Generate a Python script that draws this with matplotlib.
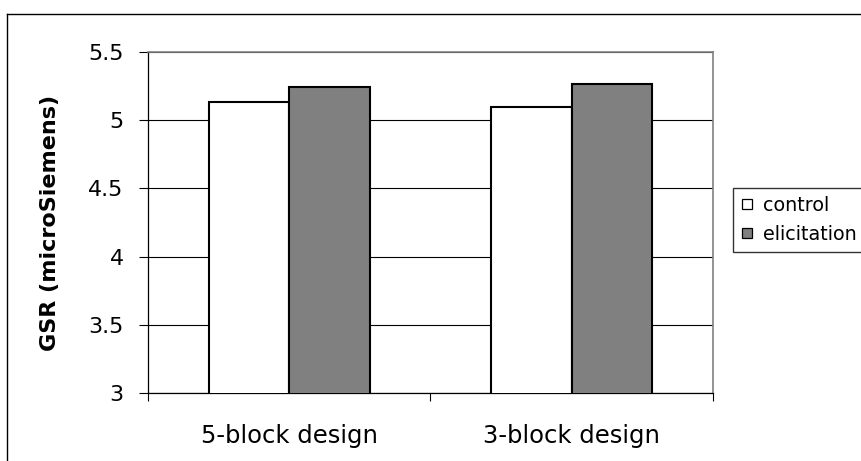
import matplotlib
matplotlib.use("Agg")
import matplotlib.pyplot as plt
from matplotlib.lines import Line2D
import numpy as np

# ===================== data =====================
CATEGORIES = ["5-block design", "3-block design"]
CONTROL = [5.135, 5.096]
ELICITATION = [5.247, 5.265]
SERIES_NAMES = ["control", "elicitation"]
Y_TICKS = [3, 3.5, 4, 4.5, 5, 5.5]
Y_LABEL = "GSR (microSiemens)"

OUTPUT_PATH = "out.png"
FIG_W, FIG_H, DPI = 862, 461, 100

plt.rcParams["font.family"] = ["DejaVu Sans"]


def px_to_fig(x, y):
    """pixel position (from top-left) -> figure fraction"""
    return x / FIG_W, 1 - y / FIG_H


def plot_chart(save_path):
    fig = plt.figure(figsize=(FIG_W / DPI, FIG_H / DPI), dpi=DPI)

    # plot area: x 148..713, y 52..393 (pixels)
    left, top = px_to_fig(148, 52)
    right, bottom = px_to_fig(713, 393)
    ax = fig.add_axes([left, bottom, right - left, top - bottom])

    x = np.arange(len(CATEGORIES))
    width = 0.285
    ax.bar(x - width / 2, CONTROL, width, color="white", edgecolor="black",
           linewidth=1.5, zorder=3)
    ax.bar(x + width / 2, ELICITATION, width, color="#808080", edgecolor="black",
           linewidth=1.5, zorder=3)

    ax.set_xlim(-0.5, len(CATEGORIES) - 0.5)
    ax.set_ylim(Y_TICKS[0], Y_TICKS[-1])
    ax.set_yticks(Y_TICKS)
    ax.set_yticklabels([f"{t:g}" for t in Y_TICKS], fontsize=16)
    ax.tick_params(axis="y", direction="out", length=6.5, width=0.8, pad=11)

    ax.set_xticks(x)
    ax.set_xticklabels(CATEGORIES, fontsize=17.5)
    ax.set_xticks(np.arange(len(CATEGORIES) + 1) - 0.5, minor=True)
    ax.tick_params(axis="x", which="major", length=0, pad=22)
    ax.tick_params(axis="x", which="minor", direction="out", length=6, width=0.8)

    ax.yaxis.grid(True, color="black", linewidth=0.8)
    ax.set_axisbelow(True)

    for side in ["left", "bottom"]:
        ax.spines[side].set_color("black")
        ax.spines[side].set_linewidth(0.9)
    for side in ["top", "right"]:
        ax.spines[side].set_color("#808080")
        ax.spines[side].set_linewidth(1.2)

    ax.set_ylabel(Y_LABEL, fontsize=16, fontweight="bold")
    ax.yaxis.set_label_coords(-0.173, 0.5)
    ax.yaxis.label.set_verticalalignment("center")

    # legend
    handles = [
        Line2D([], [], marker="s", linestyle="none", markersize=7.5,
               markerfacecolor="white", markeredgecolor="black", markeredgewidth=0.9),
        Line2D([], [], marker="s", linestyle="none", markersize=7.5,
               markerfacecolor="#808080", markeredgecolor="black", markeredgewidth=0.9),
    ]
    lx, ly = px_to_fig(733, 188)
    leg = fig.legend(handles, SERIES_NAMES, loc="upper left", bbox_to_anchor=(lx, ly),
                     bbox_transform=fig.transFigure, fontsize=13.8, frameon=True,
                     fancybox=False, edgecolor="black", borderaxespad=0,
                     handlelength=0.6, handletextpad=0.55, borderpad=0.42,
                     labelspacing=0.5)
    leg.get_frame().set_linewidth(1.0)

    # outer chart frame (left and top visible)
    fx0, fy0 = px_to_fig(7, 14)
    fig.add_artist(Line2D([fx0, fx0], [fy0, 0], color="black", linewidth=1.0,
                          transform=fig.transFigure))
    fig.add_artist(Line2D([fx0, 1], [fy0, fy0], color="black", linewidth=1.0,
                          transform=fig.transFigure))

    fig.savefig(save_path, dpi=DPI)


if __name__ == "__main__":
    plot_chart(OUTPUT_PATH)
